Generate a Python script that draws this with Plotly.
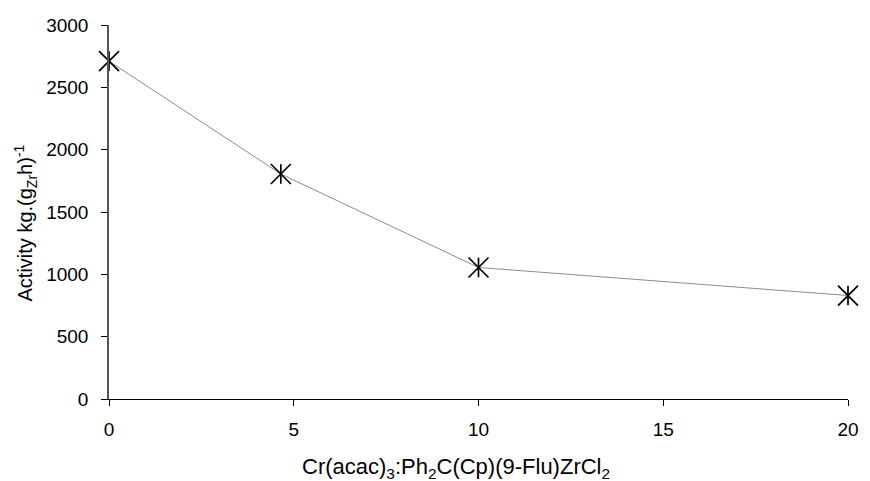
import plotly.graph_objects as go

ratio = [0, 4.65, 10, 20]
activity = [2710, 1805, 1055, 830]
x_ticks = [0, 5, 10, 15, 20]
y_ticks = [0, 500, 1000, 1500, 2000, 2500, 3000]
x_title = "Cr(acac)<sub>3</sub>:Ph<sub>2</sub>C(Cp)(9-Flu)ZrCl<sub>2</sub>"
y_title = "Activity kg.(g<sub>Zr</sub>h)<sup>-1</sup>"

fig = go.Figure()
fig.add_trace(go.Scatter(
    x=ratio, y=activity, mode="lines+markers",
    line=dict(color="#8c8c8c", width=1),
    marker=dict(symbol="x-thin-open", size=20, color="black",
                line=dict(color="black", width=1.7)),
    cliponaxis=False, showlegend=False))
fig.add_trace(go.Scatter(
    x=ratio, y=activity, mode="markers",
    marker=dict(symbol="line-ns-open", size=14, color="black",
                line=dict(color="black", width=1.7)),
    cliponaxis=False, showlegend=False))

font = "Liberation Sans, Arial, sans-serif"
fig.update_layout(
    width=870, height=481,
    margin=dict(l=109, r=11, t=25, b=82),
    paper_bgcolor="white", plot_bgcolor="white",
    font=dict(family=font, size=19, color="black"),
    xaxis=dict(range=[0, 20], tickvals=x_ticks, showgrid=False, zeroline=False,
               showline=True, linecolor="black", linewidth=1,
               ticks="outside", ticklen=6, tickcolor="black",
               tickfont=dict(size=19), ticklabelstandoff=7),
    yaxis=dict(range=[0, 3000], tickvals=y_ticks, showgrid=False, zeroline=False,
               showline=True, linecolor="#555555", linewidth=1.5,
               ticks="outside", ticklen=6, tickcolor="black",
               tickfont=dict(size=19), ticklabelstandoff=9),
    annotations=[
        dict(text=x_title, xref="paper", yref="paper", x=0.47, y=-0.1845,
             xanchor="center", yanchor="middle", showarrow=False,
             font=dict(size=22)),
        dict(text=y_title, xref="paper", yref="paper", x=-0.1133, y=0.47,
             xanchor="center", yanchor="middle", showarrow=False,
             textangle=-90, font=dict(size=20)),
    ],
)
fig.write_html("out.html")
